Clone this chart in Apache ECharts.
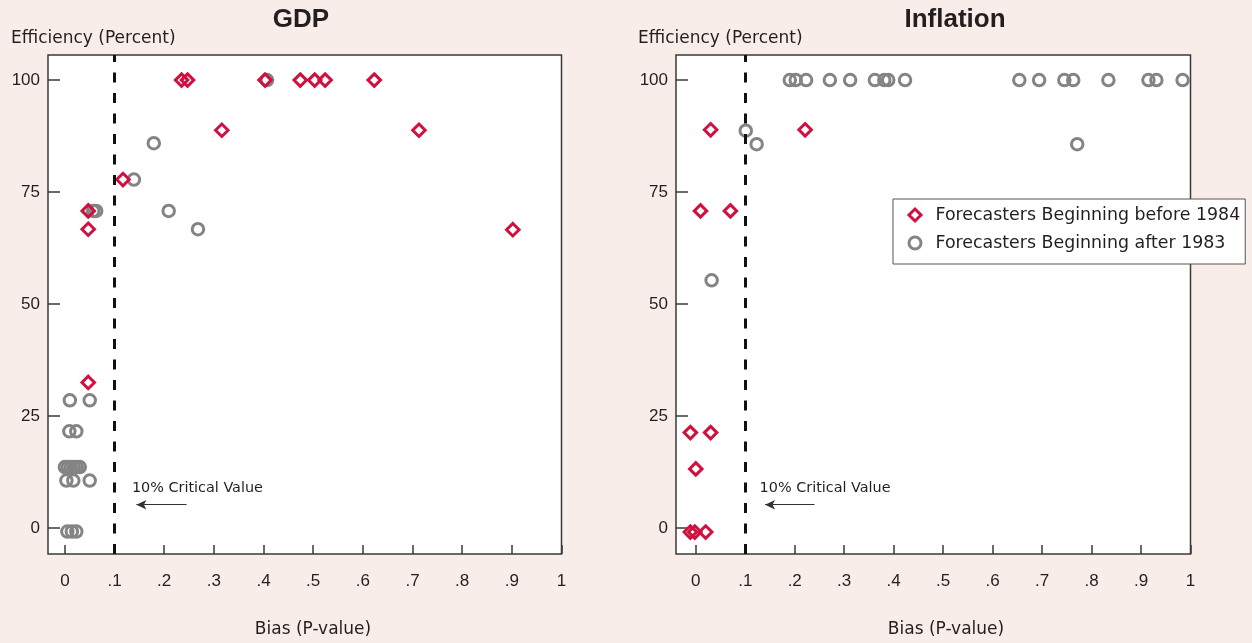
<!DOCTYPE html>
<html>
<head>
<meta charset="utf-8">
<script src="https://cdn.jsdelivr.net/npm/echarts@6/dist/echarts.min.js"></script>
<style>
  html, body { margin: 0; padding: 0; background: #f9ede9; }
  #chart { width: 1252px; height: 643px; }
</style>
</head>
<body>
<div id="chart"></div>
<script>
// Axis ticks and labels
const xTicks = [0, 0.1, 0.2, 0.3, 0.4, 0.5, 0.6, 0.7, 0.8, 0.9, 1];
const xTickLabels = ['0', '.1', '.2', '.3', '.4', '.5', '.6', '.7', '.8', '.9', '1'];
const yTicks = [0, 25, 50, 75, 100];
const yTickLabels = ['0', '25', '50', '75', '100'];

const seriesNames = ['Forecasters Beginning before 1984', 'Forecasters Beginning after 1983'];
const panelTitles = ['GDP', 'Inflation'];
const criticalValue = 0.1;
const criticalText = '10% Critical Value';

// GDP: bias p-value (x) vs. efficiency percent (y)
const gdpBeforeX = [0.235, 0.247, 0.403, 0.474, 0.503, 0.524, 0.623, 0.316, 0.713, 0.117, 0.047, 0.047, 0.902, 0.047];
const gdpBeforeY = [100, 100, 100, 100, 100, 100, 100, 88.8, 88.8, 77.8, 70.8, 66.7, 66.6, 32.5];
const gdpAfterX = [0.407, 0.179, 0.139, 0.057, 0.063, 0.209, 0.268, 0.010, 0.050, 0.009, 0.023,
                   0.000, 0.006, 0.012, 0.018, 0.024, 0.030, 0.003, 0.017, 0.050, 0.005, 0.014, 0.023];
const gdpAfterY = [100, 85.9, 77.8, 70.8, 70.8, 70.8, 66.7, 28.5, 28.5, 21.6, 21.6,
                   13.6, 13.6, 13.6, 13.6, 13.6, 13.6, 10.6, 10.6, 10.6, -0.8, -0.8, -0.8];

// Inflation
const infBeforeX = [0.030, 0.221, 0.0095, 0.070, -0.011, 0.030, 0.000, -0.011, -0.002, 0.020];
const infBeforeY = [88.9, 88.9, 70.8, 70.8, 21.3, 21.3, 13.2, -0.9, -0.9, -0.9];
const infAfterX = [0.190, 0.202, 0.223, 0.271, 0.312, 0.362, 0.381, 0.389, 0.423, 0.654, 0.694,
                   0.745, 0.763, 0.834, 0.915, 0.931, 0.984, 0.101, 0.123, 0.771, 0.032];
const infAfterY = [100, 100, 100, 100, 100, 100, 100, 100, 100, 100, 100,
                   100, 100, 100, 100, 100, 100, 88.7, 85.7, 85.7, 55.3];

const zip = (xs, ys) => xs.map((x, i) => [x, ys[i]]);

const RED = '#d0103e';
const GRAY = '#848484';
const INK = '#231f20';
const TEXT_FONT = '"DejaVu Sans", sans-serif';
const NUM_FONT = '"Liberation Sans", Arial, sans-serif';

const redStyle = { color: 'rgba(0,0,0,0)', borderColor: RED, borderWidth: 3, opacity: 1 };
const grayStyle = { color: 'rgba(0,0,0,0)', borderColor: GRAY, borderWidth: 3, opacity: 1 };

const panels = [
  { left: 48, width: 513.5, xMin: -0.034,
    before: zip(gdpBeforeX, gdpBeforeY), after: zip(gdpAfterX, gdpAfterY),
    textAt: [0.134, 8.9], arrow: [[0.245, 5.2], [0.144, 5.2]] },
  { left: 676, width: 514.5, xMin: -0.04,
    before: zip(infBeforeX, infBeforeY), after: zip(infAfterX, infAfterY),
    textAt: [0.128, 8.9], arrow: [[0.24, 5.2], [0.14, 5.2]] }
];

const labelFor = (ticks, labels) => v => {
  const i = ticks.findIndex(t => Math.abs(t - v) < 1e-9);
  return i < 0 ? '' : labels[i];
};

const grid = [], xAxis = [], yAxis = [], series = [];
panels.forEach((p, i) => {
  grid.push({
    left: p.left, top: 55, width: p.width, height: 499,
    show: true, backgroundColor: '#ffffff', borderColor: '#3a3a3a', borderWidth: 1.5,
    outerBoundsMode: 'none', containLabel: false
  });
  xAxis.push({
    gridIndex: i, type: 'value', min: p.xMin, max: 1, position: 'bottom',
    axisLine: { show: false, onZero: false }, splitLine: { show: false },
    axisTick: { show: true, inside: true, length: 9, customValues: xTicks,
                lineStyle: { color: '#3a3a3a', width: 1.5 } },
    axisLabel: { show: true, customValues: xTicks, formatter: labelFor(xTicks, xTickLabels),
                 margin: 19, fontSize: 17, fontFamily: NUM_FONT, color: INK }
  });
  yAxis.push({
    gridIndex: i, type: 'value', min: -5.8, max: 105.6, position: 'left',
    axisLine: { show: false, onZero: false }, splitLine: { show: false },
    axisTick: { show: true, inside: true, length: 12, customValues: yTicks,
                lineStyle: { color: '#3a3a3a', width: 1.5 } },
    axisLabel: { show: true, customValues: yTicks, formatter: labelFor(yTicks, yTickLabels),
                 margin: 8, fontSize: 17, fontFamily: NUM_FONT, color: INK }
  });
  series.push({
    name: seriesNames[1], type: 'scatter', xAxisIndex: i, yAxisIndex: i,
    data: p.after, symbol: 'circle', symbolSize: 11.5,
    itemStyle: grayStyle,
    emphasis: { disabled: true },
    markLine: {
      silent: true, animation: false,
      symbol: ['none', 'none'],
      label: { show: false },
      data: [
        { xAxis: criticalValue,
          lineStyle: { color: '#111', width: 3, type: [10, 10.5] } },
        [ { coord: p.arrow[0], symbol: 'none' },
          { coord: p.arrow[1], symbol: 'arrow', symbolSize: [7, 10],
            lineStyle: { color: '#333', width: 1.2, type: 'solid' } } ]
      ]
    },
    markPoint: {
      silent: true, animation: false,
      data: [{
        coord: p.textAt, symbol: 'circle', symbolSize: 1,
        itemStyle: { color: 'rgba(0,0,0,0)' },
        label: { show: true, position: 'right', distance: 0, formatter: criticalText,
                 fontSize: 14.4, fontFamily: TEXT_FONT, color: INK }
      }]
    }
  });
  series.push({
    name: seriesNames[0], type: 'scatter', xAxisIndex: i, yAxisIndex: i,
    data: p.before, symbol: 'diamond', symbolSize: 12.5,
    itemStyle: redStyle,
    emphasis: { disabled: true }
  });
});

const textEl = (text, x, y, align, size, family, weight) => ({
  type: 'text', x, y, silent: true,
  style: { text, fill: INK, fontSize: size, fontFamily: family, fontWeight: weight || 'normal',
           align, verticalAlign: 'middle' }
});

const option = {
  animation: false,
  backgroundColor: '#f9ede9',
  grid, xAxis, yAxis, series,
  legend: {
    data: [
      { name: seriesNames[0], icon: 'diamond', itemStyle: redStyle },
      { name: seriesNames[1], icon: 'circle', itemStyle: grayStyle }
    ],
    orient: 'vertical', left: 893, top: 199,
    padding: [7, 5, 12, 14.5], itemGap: 10,
    itemWidth: 12, itemHeight: 12,
    backgroundColor: '#ffffff', borderColor: '#555', borderWidth: 1,
    selectedMode: false,
    textStyle: { fontSize: 17.4, fontFamily: TEXT_FONT, color: INK, lineHeight: 18, padding: [0, 0, 0, 9.5] }
  },
  graphic: [
    textEl(panelTitles[0], 301, 20, 'center', 26, NUM_FONT, 'bold'),
    textEl(panelTitles[1], 955, 20, 'center', 26, NUM_FONT, 'bold'),
    textEl('Efficiency (Percent)', 11, 39, 'left', 17, TEXT_FONT),
    textEl('Efficiency (Percent)', 638, 39, 'left', 17, TEXT_FONT),
    textEl('Bias (P-value)', 313, 630, 'center', 17, TEXT_FONT),
    textEl('Bias (P-value)', 946, 630, 'center', 17, TEXT_FONT)
  ]
};

const chart = echarts.init(document.getElementById('chart'));
chart.setOption(option);
</script>
</body>
</html>
